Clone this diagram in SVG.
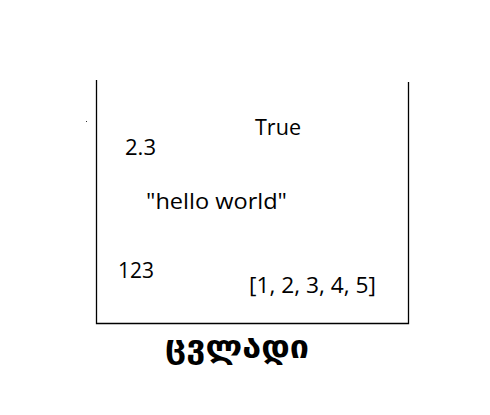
<svg xmlns="http://www.w3.org/2000/svg" width="490" height="415" viewBox="0 0 490 415">
<style>
.t{font-family:"Open Sans","Noto Sans","DejaVu Sans",sans-serif;font-size:21px;fill:#000}
.ln{stroke:#000;stroke-width:1.3;fill:none}
.g{font-family:"DejaVu Sans","Noto Sans Georgian",sans-serif;font-size:32px;font-weight:bold;fill:#000}
</style>
<rect width="490" height="415" fill="#fff"/>
<g id="container">
<path class="ln" d="M96.5,80 V323.5 H408.5 V82"/>
<rect x="86" y="121" width="1" height="1" fill="#333"/>
</g>
<g id="true"><text class="t" x="255" y="135" textLength="46" lengthAdjust="spacingAndGlyphs">True</text></g>
<g id="float"><text class="t" x="125" y="155" textLength="31" lengthAdjust="spacingAndGlyphs">2.3</text></g>
<g id="string"><text class="t" x="146" y="209" textLength="141" lengthAdjust="spacingAndGlyphs">"hello world"</text></g>
<g id="int"><text class="t" x="118" y="278" textLength="36" lengthAdjust="spacingAndGlyphs">123</text></g>
<g id="list"><text class="t" x="249" y="293" textLength="127" lengthAdjust="spacingAndGlyphs">[1, 2, 3, 4, 5]</text></g>
<g id="label"><text class="g" x="165" y="358" textLength="144" lengthAdjust="spacingAndGlyphs">ცვლადი</text></g>
</svg>
